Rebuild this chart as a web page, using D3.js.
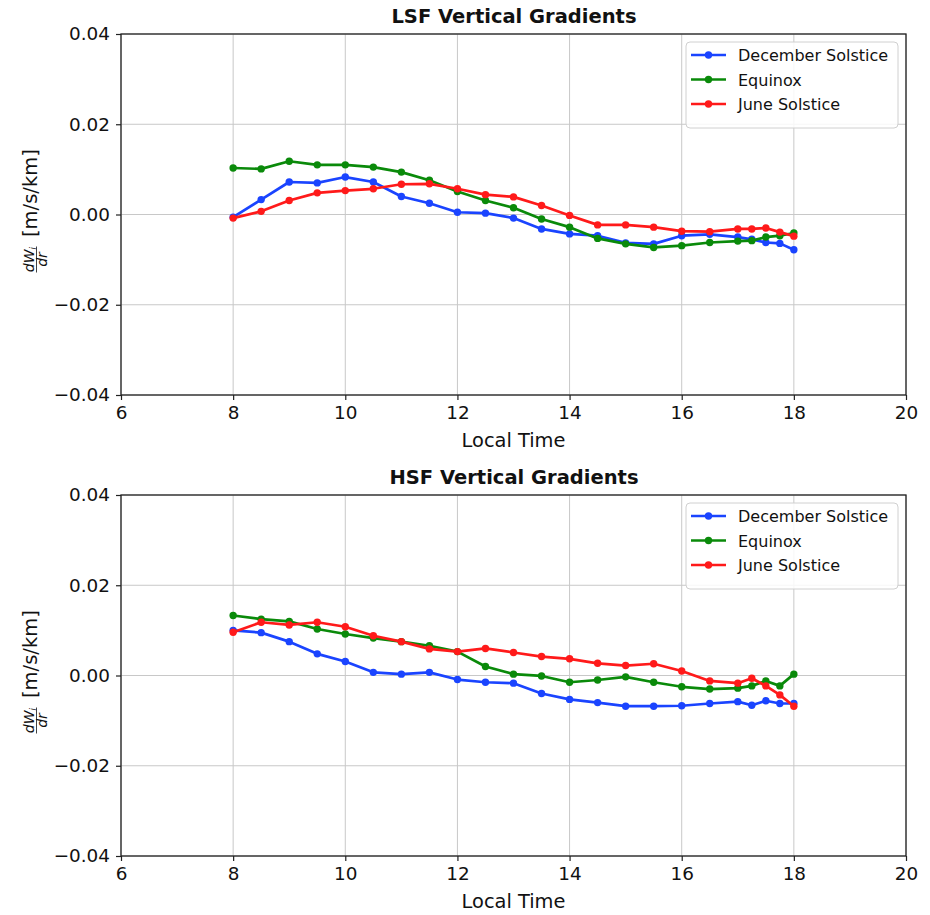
<!DOCTYPE html>
<html>
<head>
<meta charset="utf-8">
<script src="https://cdn.jsdelivr.net/npm/d3@7"></script>
<style>
  body { margin: 0; background: #fff; }
  svg { display: block; font-family: "DejaVu Sans", sans-serif; }
</style>
</head>
<body>
<svg id="chart" width="930" height="915"></svg>
<script>
// local times shared by every series
const times = [8, 8.5, 9, 9.5, 10, 10.5, 11, 11.5, 12, 12.5, 13, 13.5, 14, 14.5, 15, 15.5, 16, 16.5, 17, 17.25, 17.5, 17.75, 18];

// LSF panel
const lsfDecember = [-0.0006, 0.0033, 0.0072, 0.0070, 0.0083, 0.0072, 0.0040, 0.0025, 0.0005, 0.0003, -0.0008, -0.0032, -0.0043, -0.0047, -0.0063, -0.0065, -0.0047, -0.0044, -0.0050, -0.0055, -0.0062, -0.0064, -0.0078];
const lsfEquinox = [0.0103, 0.0101, 0.0118, 0.0110, 0.0110, 0.0105, 0.0094, 0.0076, 0.0051, 0.0031, 0.0015, -0.0010, -0.0028, -0.0053, -0.0065, -0.0073, -0.0069, -0.0062, -0.0059, -0.0058, -0.0050, -0.0047, -0.0041];
const lsfJune = [-0.0008, 0.0007, 0.0031, 0.0048, 0.0053, 0.0057, 0.0067, 0.0068, 0.0057, 0.0044, 0.0039, 0.0020, -0.0002, -0.0023, -0.0023, -0.0028, -0.0037, -0.0038, -0.0032, -0.0032, -0.0030, -0.0039, -0.0048];

// HSF panel
const hsfDecember = [0.0100, 0.0095, 0.0075, 0.0048, 0.0031, 0.0007, 0.0003, 0.0007, -0.0009, -0.0015, -0.0017, -0.0040, -0.0053, -0.0060, -0.0068, -0.0068, -0.0067, -0.0062, -0.0058, -0.0066, -0.0056, -0.0062, -0.0062];
const hsfEquinox = [0.0133, 0.0125, 0.0120, 0.0103, 0.0092, 0.0083, 0.0075, 0.0066, 0.0053, 0.0020, 0.0003, -0.0001, -0.0015, -0.0010, -0.0003, -0.0015, -0.0025, -0.0030, -0.0028, -0.0023, -0.0012, -0.0023, 0.0003];
const hsfJune = [0.0096, 0.0118, 0.0112, 0.0118, 0.0108, 0.0088, 0.0075, 0.0059, 0.0053, 0.0060, 0.0051, 0.0042, 0.0037, 0.0027, 0.0022, 0.0026, 0.0010, -0.0012, -0.0017, -0.0006, -0.0023, -0.0043, -0.0068];

const seriesNames = ['December Solstice', 'Equinox', 'June Solstice'];
const seriesColors = ['#1a44ff', '#0a8a0a', '#ff1a1a'];
const xTicks = [6, 8, 10, 12, 14, 16, 18, 20];
const yTicks = [-0.04, -0.02, 0.00, 0.02, 0.04];

const panels = [
    { title: 'LSF Vertical Gradients', top: 34, series: [lsfDecember, lsfEquinox, lsfJune] },
    { title: 'HSF Vertical Gradients', top: 495, series: [hsfDecember, hsfEquinox, hsfJune] }
];

const svg = d3.select('#chart');
const left = 121, right = 906, plotH = 361;

const x = d3.scaleLinear().domain([6, 20]).range([left, right]);

panels.forEach(panel => {
    const y = d3.scaleLinear().domain([-0.04, 0.04]).range([panel.top + plotH, panel.top]);
    const g = svg.append('g');

    // grid
    g.append('g').selectAll('line').data(xTicks).enter().append('line')
        .attr('x1', d => x(d)).attr('x2', d => x(d))
        .attr('y1', panel.top).attr('y2', panel.top + plotH)
        .attr('stroke', '#c8c8c8').attr('stroke-width', 1);
    g.append('g').selectAll('line').data(yTicks).enter().append('line')
        .attr('x1', left).attr('x2', right)
        .attr('y1', d => y(d)).attr('y2', d => y(d))
        .attr('stroke', '#c8c8c8').attr('stroke-width', 1);

    // axes
    const xAxis = g.append('g')
        .attr('transform', `translate(0,${panel.top + plotH})`)
        .call(d3.axisBottom(x).tickValues(xTicks).tickFormat(d3.format('d')).tickSizeOuter(0).tickSize(5).tickPadding(6));
    const yAxis = g.append('g')
        .attr('transform', `translate(${left},0)`)
        .call(d3.axisLeft(y).tickValues(yTicks).tickFormat(d => d3.format('.2f')(d).replace('-', '\u2212')).tickSizeOuter(0).tickSize(5).tickPadding(6));
    [xAxis, yAxis].forEach(a => {
        a.select('.domain').remove();
        a.selectAll('text').attr('font-size', 18.4).attr('fill', '#111').attr('font-family', '"DejaVu Sans", sans-serif');
        a.selectAll('line').attr('stroke', '#222').attr('stroke-width', 1.2);
    });

    // frame
    g.append('rect')
        .attr('x', left).attr('y', panel.top)
        .attr('width', right - left).attr('height', plotH)
        .attr('fill', 'none').attr('stroke', '#222').attr('stroke-width', 1.3);

    // title
    g.append('text')
        .attr('x', 514).attr('y', panel.top - 11)
        .attr('text-anchor', 'middle')
        .attr('font-size', 19.5).attr('font-weight', 'bold').attr('fill', '#111')
        .text(panel.title);

    // x label
    g.append('text')
        .attr('x', (left + right) / 2).attr('y', panel.top + plotH + 52)
        .attr('text-anchor', 'middle').attr('font-size', 19.4).attr('fill', '#111')
        .text('Local Time');

    // y label: fraction dW_i/dr then [m/s/km]
    const cy = panel.top + plotH / 2;
    const yl = g.append('g').attr('transform', `translate(37,${cy}) rotate(-90)`);
    const fx = -45;
    yl.append('text').attr('x', fx).attr('y', -3).attr('text-anchor', 'middle')
        .attr('font-size', 14).attr('font-style', 'italic').attr('fill', '#111')
        .html('dW<tspan font-size="9" dy="2">i</tspan>');
    yl.append('line').attr('x1', fx - 13).attr('x2', fx + 13).attr('y1', -0.5).attr('y2', -0.5)
        .attr('stroke', '#111').attr('stroke-width', 0.8);
    yl.append('text').attr('x', fx).attr('y', 10).attr('text-anchor', 'middle')
        .attr('font-size', 14).attr('font-style', 'italic').attr('fill', '#111')
        .text('dr');
    yl.append('text').attr('x', -22.5).attr('y', 0).attr('text-anchor', 'start')
        .attr('font-size', 19.5).attr('fill', '#111')
        .text('[m/s/km]');

    // series
    const line = d3.line().x((d, i) => x(times[i])).y(d => y(d));
    panel.series.forEach((vals, si) => {
        g.append('path').datum(vals)
            .attr('d', line)
            .attr('fill', 'none')
            .attr('stroke', seriesColors[si])
            .attr('stroke-width', 2.7)
            .attr('stroke-linejoin', 'round');
        g.append('g').selectAll('circle').data(vals).enter().append('circle')
            .attr('cx', (d, i) => x(times[i]))
            .attr('cy', d => y(d))
            .attr('r', 3.7)
            .attr('fill', seriesColors[si]);
    });

    // legend
    const lg = g.append('g').attr('transform', `translate(686,${panel.top + 8})`);
    lg.append('rect').attr('width', 212).attr('height', 86).attr('rx', 4)
        .attr('fill', 'rgba(255,255,255,0.85)').attr('stroke', '#d0d0d0').attr('stroke-width', 1);
    seriesNames.forEach((name, i) => {
        const ly = 13 + i * 24.5;
        lg.append('line').attr('x1', 5).attr('x2', 40).attr('y1', ly).attr('y2', ly)
            .attr('stroke', seriesColors[i]).attr('stroke-width', 2.7);
        lg.append('circle').attr('cx', 22.5).attr('cy', ly).attr('r', 3.7).attr('fill', seriesColors[i]);
        lg.append('text').attr('x', 52).attr('y', ly + 6)
            .attr('font-size', 16).attr('fill', '#111')
            .text(name);
    });
});
</script>
</body>
</html>
